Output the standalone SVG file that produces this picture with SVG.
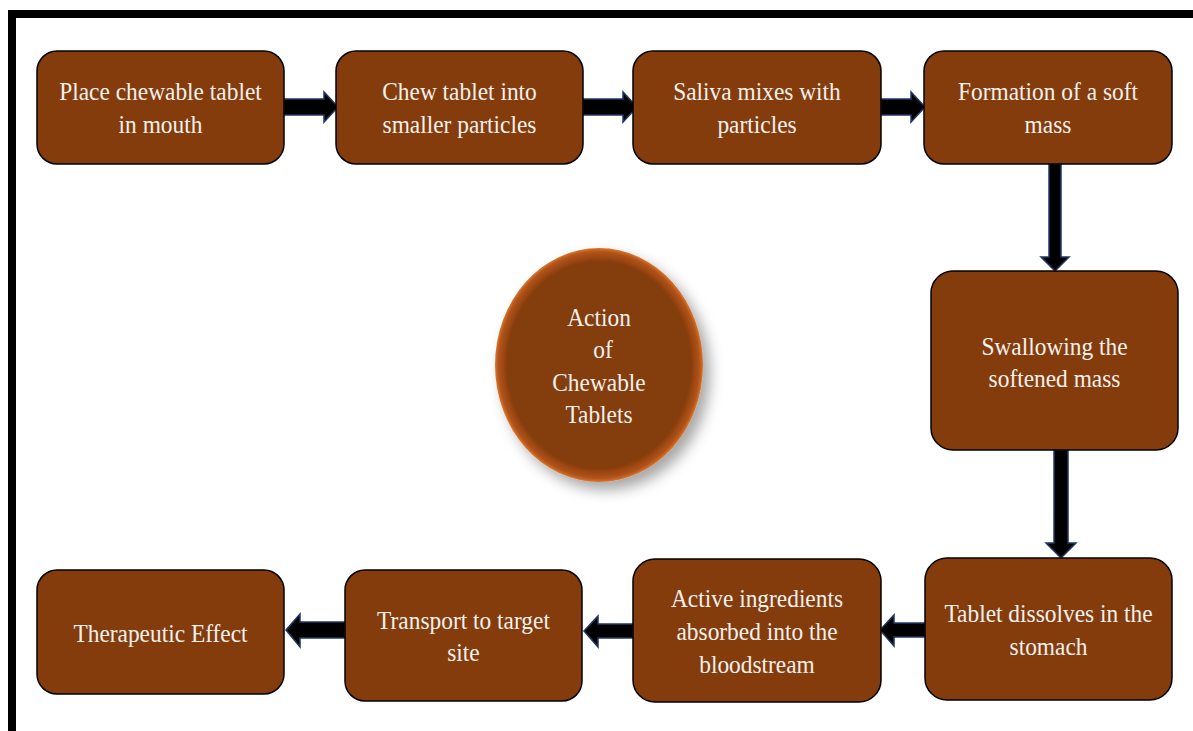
<svg xmlns="http://www.w3.org/2000/svg" width="1193" height="731" viewBox="0 0 1193 731">
<defs>
<style>
.box{fill:#843c0c;stroke:#000;stroke-width:1.5}
.t{font-family:'Liberation Serif','Times New Roman',Times,serif;font-size:26px;fill:#f4f0ec;text-anchor:middle}
.arr{fill:#000;stroke:#1f3864;stroke-width:1.5;stroke-linejoin:miter}
</style>
<radialGradient id="eg" cx="0.5" cy="0.5" r="0.5">
<stop offset="0" stop-color="#843c0c"/>
<stop offset="0.88" stop-color="#843c0c"/>
<stop offset="0.97" stop-color="#b5541a"/>
<stop offset="1" stop-color="#d9782f"/>
</radialGradient>
<filter id="sh" x="-30%" y="-30%" width="160%" height="160%">
<feDropShadow dx="7" dy="8" stdDeviation="7" flood-color="#000" flood-opacity="0.35"/>
</filter>
</defs>
<rect x="0" y="0" width="1193" height="731" fill="#fff"/>
<g id="frame">
<rect x="8" y="10" width="1185" height="8" fill="#000"/>
<rect x="8" y="10" width="8" height="721" fill="#000"/>
</g>
<g id="connectors">
<path class="arr" d="M284,99 H324 V92 L338,107 L324,122 V115 H284 Z"/>
<path class="arr" d="M583,99 H623 V92 L637,107 L623,122 V115 H583 Z"/>
<path class="arr" d="M881,99 H911 V92 L925,107 L911,122 V115 H881 Z"/>
<path class="arr" d="M1049,164 V257 H1041 L1055,271 L1069,257 H1061 V164 Z"/>
<path class="arr" d="M1054,450 V543 H1046 L1061,558 L1076,543 H1068 V450 Z"/>
<path class="arr" d="M925,623 H894 V615 L880,630 L894,646 V637 H925 Z"/>
<path class="arr" d="M633,624 H598 V616 L584,631 L598,647 V638 H633 Z"/>
<path class="arr" d="M345,622 H300 V614 L286,630 L300,647 V638 H345 Z"/>
</g>
<g id="n1"><rect class="box" x="37" y="51" width="247" height="113" rx="20"/>
<text class="t" transform="translate(160.5 100) scale(0.9 1)">Place chewable tablet</text><text class="t" transform="translate(160.5 133) scale(0.9 1)">in mouth</text></g>
<g id="n2"><rect class="box" x="336" y="51" width="247" height="113" rx="20"/>
<text class="t" transform="translate(459.5 100) scale(0.9 1)">Chew tablet into</text><text class="t" transform="translate(459.5 133) scale(0.9 1)">smaller particles</text></g>
<g id="n3"><rect class="box" x="633" y="51" width="248" height="113" rx="20"/>
<text class="t" transform="translate(757 100) scale(0.9 1)">Saliva mixes with</text><text class="t" transform="translate(757 133) scale(0.9 1)">particles</text></g>
<g id="n4"><rect class="box" x="924" y="51" width="248" height="113" rx="20"/>
<text class="t" transform="translate(1048 100) scale(0.9 1)">Formation of a soft</text><text class="t" transform="translate(1048 133) scale(0.9 1)">mass</text></g>
<g id="n5"><rect class="box" x="931" y="271" width="247" height="179" rx="22"/>
<text class="t" transform="translate(1054.5 355) scale(0.9 1)">Swallowing the</text><text class="t" transform="translate(1054.5 387) scale(0.9 1)">softened mass</text></g>
<g id="n6"><rect class="box" x="925" y="558" width="247" height="142" rx="22"/>
<text class="t" transform="translate(1048.5 622) scale(0.9 1)">Tablet dissolves in the</text><text class="t" transform="translate(1048.5 655) scale(0.9 1)">stomach</text></g>
<g id="n7"><rect class="box" x="633" y="559" width="248" height="143" rx="22"/>
<text class="t" transform="translate(757 607) scale(0.9 1)">Active ingredients</text><text class="t" transform="translate(757 640) scale(0.9 1)">absorbed into the</text><text class="t" transform="translate(757 673) scale(0.9 1)">bloodstream</text></g>
<g id="n8"><rect class="box" x="345" y="570" width="237" height="131" rx="20"/>
<text class="t" transform="translate(463.5 629) scale(0.9 1)">Transport to target</text><text class="t" transform="translate(463.5 661) scale(0.9 1)">site</text></g>
<g id="n9"><rect class="box" x="37" y="570" width="247" height="124" rx="20"/>
<text class="t" transform="translate(160.5 642) scale(0.9 1)">Therapeutic Effect</text></g>
<g id="center">
<ellipse cx="599" cy="365" rx="104" ry="117" fill="url(#eg)" filter="url(#sh)"/>
<text class="t" transform="translate(599 326) scale(0.9 1)">Action</text>
<text class="t" transform="translate(603 358) scale(0.9 1)">of</text>
<text class="t" transform="translate(599 391) scale(0.9 1)">Chewable</text>
<text class="t" transform="translate(599 423) scale(0.9 1)">Tablets</text>
</g>
</svg>
